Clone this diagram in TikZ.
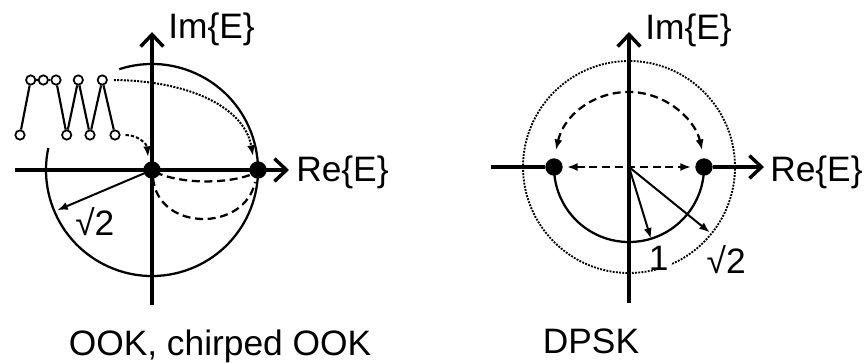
\documentclass[tikz,border=0pt]{standalone}
\usepackage{fontspec}
\setmainfont{Liberation Sans}
\usetikzlibrary{arrows.meta,calc}
\begin{document}
\begin{tikzpicture}[x=0.75pt,y=0.75pt,
  every node/.style={font=\fontsize{26.5}{30}\selectfont,inner sep=0pt},
  axis/.style={line width=2.4pt,-{Straight Barb[length=9pt,width=17pt,line width=2.6pt]}},
  axisline/.style={line width=2.4pt},
  ring/.style={line width=1.7pt},
  dot/.style={circle,fill=black,inner sep=0pt,minimum size=13pt},
  pin/.style={circle,draw,fill=white,line width=1.3pt,inner sep=0pt,minimum size=7pt},
  vec/.style={line width=1.5pt,-{Latex[length=8pt,width=6pt]}},
  dsh/.style={line width=1.7pt,dash pattern=on 6pt off 3.5pt},
  lbl/.style={anchor=base west}]
\useasboundingbox (0,0) rectangle (866,362);

% ---------------- left diagram: OOK ----------------
\coordinate (o1) at (152,192);
\coordinate (hl1) at (15,192);
\coordinate (hr1) at (289,192);
\coordinate (vb1) at (152,57);
\coordinate (vt1) at (152,330);
\draw[axis] (hl1) -- (hr1);
\draw[axis] (vb1) -- (vt1);
\draw[ring] ($(o1)+(108:79.5pt)$) arc[start angle=108,end angle=-192,radius=79.5pt];

\node[dot] (d1a) at (o1) {};
\node[dot] (d1b) at (258,192) {};

% radius arrow sqrt2
\coordinate (r1) at ($(o1)+(203:103)$);
\draw[vec] (o1) -- (r1);
\node[lbl] (s1) at (75,127) {√2};

% dashed transition curves
\draw[dsh] (155,190) .. controls (180,178) and (225,178) .. (250,187);
\draw[dsh] (153,184) .. controls (158,130) and (245,130) .. (255,180);

% waveform
\node[pin] (w1) at (20,227) {};
\node[pin] (w2) at (30.7,282) {};
\node[pin] (w3) at (43.3,282) {};
\node[pin] (w4) at (56,282) {};
\node[pin] (w5) at (66.7,227) {};
\node[pin] (w6) at (78.3,282) {};
\node[pin] (w7) at (90,227) {};
\node[pin] (w8) at (102.3,282) {};
\node[pin] (w9) at (115,227) {};
\draw[line width=1.6pt] (w1) -- (w2) -- (w3) -- (w4) -- (w5) -- (w6) -- (w7) -- (w8) -- (w9);

% dotted arrow from "1" level
\coordinate (t1) at (253,206);
\draw[line width=1.5pt,densely dotted,-{Latex[length=8pt,width=6pt]}]
  (w8.east) ++(6,0) .. controls (195,281) and (245,252) .. (t1);
% dashed arrow from "0" level
\coordinate (t0) at (148,205);
\draw[line width=1.5pt,dash pattern=on 2.5pt off 1.5pt,-{Latex[length=8pt,width=6pt]}]
  (w9.east) ++(5,0) .. controls (138,227) and (147,218) .. (t0);

\node[lbl] (im1) at (168,324) {Im\{E\}};
\node[lbl] (re1) at (296,181) {Re\{E\}};
\node[anchor=base] (c1) at (220,7) {OOK, chirped OOK};

% ---------------- right diagram: DPSK ----------------
\coordinate (o2) at (629,195);
\node[dot] (d2a) at (554,195) {};
\node[dot] (d2b) at (704,195) {};
\coordinate (hl2) at (491,195);
\coordinate (hr2) at (764,195);
\coordinate (vb2) at (629,59);
\coordinate (vt2) at (629,330);
\draw[axisline] (hl2) -- (d2a);
\draw[axis] (d2b) -- (hr2);
\draw[axis] (vb2) -- (vt2);

\draw[line width=1.4pt,densely dotted] (o2) circle[radius=79.5pt];
\draw[ring] (d2a) arc[start angle=180,end angle=360,radius=56.25pt];

\draw[dsh,{Latex[length=8pt,width=6pt]}-{Latex[length=8pt,width=6pt]}]
  ($(o2)+(167:75)$) arc[start angle=167,end angle=13,radius=56.25pt];
\draw[dsh,{Latex[length=8pt,width=6pt]}-{Latex[length=8pt,width=6pt]}]
  (d2a.east) ++(4,0) -- ($(d2b.west)+(-4,0)$);

\coordinate (r2a) at ($(o2)+(-73:75)$);
\coordinate (r2b) at ($(o2)+(-39:104)$);
\draw[vec] (o2) -- (r2a);
\draw[vec] (o2) -- (r2b);

\node[lbl,fill=white,inner xsep=2pt] (one) at (646,92) {1};
\node[lbl,fill=white,inner xsep=1pt] (s2) at (705,89) {√2};

\node[lbl] (im2) at (645,323) {Im\{E\}};
\node[lbl] (re2) at (770,181) {Re\{E\}};
\node[anchor=base] (c2) at (591,9) {DPSK};
\end{tikzpicture}
\end{document}
